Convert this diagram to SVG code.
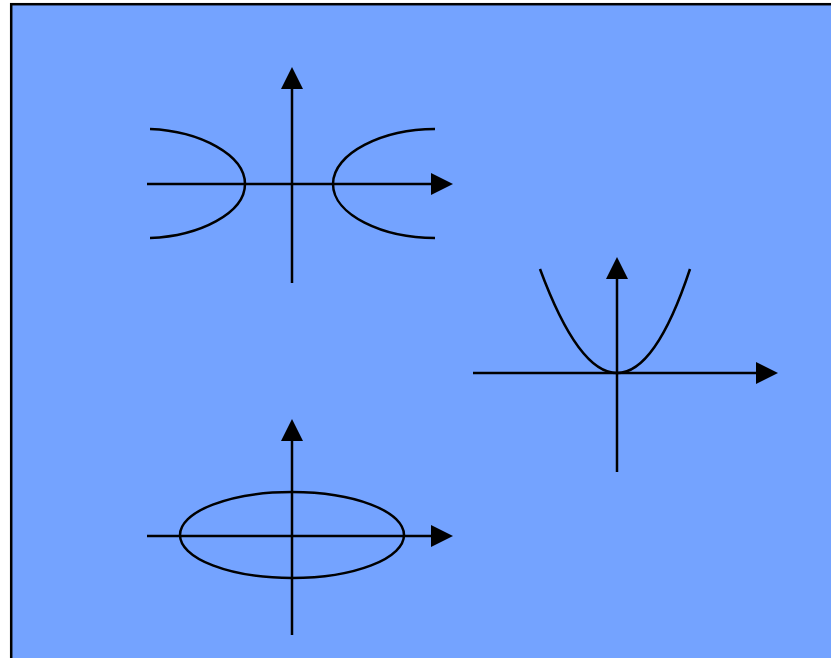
<svg xmlns="http://www.w3.org/2000/svg" width="831" height="658" viewBox="0 0 831 658">
  <defs>
    <marker id="arrow" markerUnits="userSpaceOnUse" markerWidth="22" markerHeight="22" refX="0" refY="11" orient="auto" overflow="visible">
      <path d="M0,0 L22,11 L0,22 Z" fill="#000"/>
    </marker>
    <style>
      .axis { stroke: #000; stroke-width: 2.5; fill: none; marker-end: url(#arrow); }
      .curve { stroke: #000; stroke-width: 2.5; fill: none; }
    </style>
  </defs>
  <rect x="0" y="0" width="831" height="658" fill="#ffffff"/>
  <rect id="panel" x="11.2" y="4.2" width="830" height="670" fill="#74A3FF" stroke="#000" stroke-width="2.5"/>

  <g id="connectors">
    <line class="axis" x1="147" y1="184" x2="431" y2="184"/>
    <line class="axis" x1="292" y1="283" x2="292" y2="89"/>
    <line class="axis" x1="473" y1="373" x2="756" y2="373"/>
    <line class="axis" x1="617" y1="472" x2="617" y2="279"/>
    <line class="axis" x1="147" y1="536" x2="431" y2="536"/>
    <line class="axis" x1="292" y1="635" x2="292" y2="441"/>
  </g>

  <g id="hyperbola">
    <path class="curve" d="M150,129 C200,131 245,155 245,184 C245,213 200,236 150,238"/>
    <path class="curve" d="M435,129 C383,129 333,153 333,184 C333,215 383,238 435,238"/>
  </g>

  <g id="parabola">
    <path class="curve" d="M540,269 Q578.5,373 617,373 Q655.5,373 690,269"/>
  </g>

  <g id="ellipse">
    <ellipse class="curve" cx="292" cy="535" rx="112" ry="43"/>
  </g>
</svg>
